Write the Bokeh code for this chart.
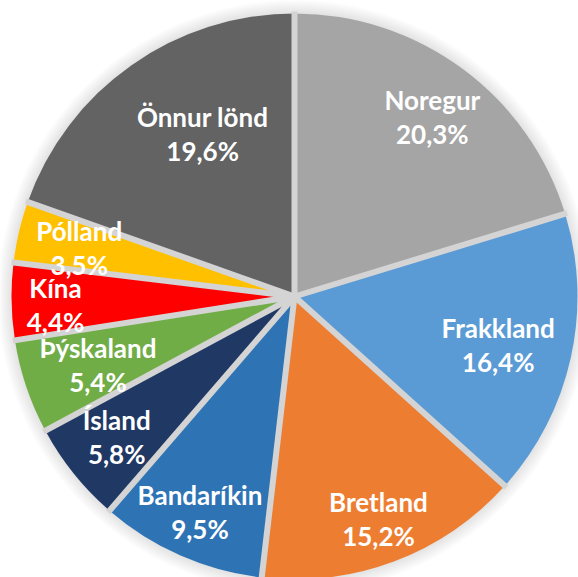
import math
from bokeh.plotting import figure
from bokeh.models import Range1d, ColumnDataSource
from bokeh.core.properties import value
from bokeh.embed import file_html
from bokeh.resources import INLINE

# ---- data (clockwise from 12 o'clock) ----
countries = ["Noregur", "Frakkland", "Bretland", "Bandaríkin", "Ísland",
             "Þýskaland", "Kína", "Pólland", "Önnur lönd"]
shares = [20.3, 16.4, 15.2, 9.5, 5.8, 5.4, 4.4, 3.5, 19.6]
colors = ["#a5a5a5", "#5b9bd5", "#ed7d31", "#2e74b5", "#203864",
          "#70ad47", "#ff0000", "#ffc000", "#636363"]

# ---- layout ----
W, H = 578, 577
CX, CY = 294, H - 296
R = 283
# data-label placement tweaks (fraction of radius, angular nudge in degrees clockwise)
label_f = [0.80, 0.74, 0.84, 0.83, 0.80, 0.735, 0.845, 0.78, 0.66]
label_da = [1.0, 1.0, 0.0, 0.0, 0.5, -0.5, -1.0, -0.5, 5.8]

p = figure(width=W, height=H, output_backend="svg", toolbar_location=None,
           x_range=Range1d(0, W), y_range=Range1d(0, H),
           min_border=0, outline_line_color=None, background_fill_color="white",
           border_fill_color="white")
p.axis.visible = False
p.grid.visible = False

# soft shadow
for k in range(1, 15):
    p.circle(x=[CX], y=[CY], radius=R + k, fill_color="black", fill_alpha=0.008,
             line_color=None)

total = sum(shares)
starts, ends, mids = [], [], []
cum = 0.0
for s in shares:
    c0 = cum / total
    cum += s
    c1 = cum / total
    starts.append(math.pi / 2 - 2 * math.pi * c1)
    ends.append(math.pi / 2 - 2 * math.pi * c0)
    mids.append(math.pi / 2 - 2 * math.pi * (c0 + c1) / 2)

src = ColumnDataSource(dict(start=starts, end=ends, color=colors))
p.wedge(x=CX, y=CY, radius=R, start_angle="start", end_angle="end",
        fill_color="color", line_color=None, source=src)

# separators
bx = [CX + (R + 2) * math.cos(a) for a in ends]
by = [CY + (R + 2) * math.sin(a) for a in ends]
p.segment(x0=[CX] * len(bx), y0=[CY] * len(by), x1=bx, y1=by,
          line_color="#d4d4d4", line_width=6)

# labels
la = [a - math.radians(d) for a, d in zip(mids, label_da)]
lx = [CX + f * R * math.cos(a) for f, a in zip(label_f, la)]
ly = [CY + f * R * math.sin(a) for f, a in zip(label_f, la)]
pct = [f"{v:.1f}".replace(".", ",") + "%" for v in shares]
lsrc = ColumnDataSource(dict(x=lx, y=ly, name=countries, pct=pct))
common = dict(text_color="white", text_font=value("Lato"), text_font_style="bold",
              text_font_size="26px", text_align="center", text_baseline="middle")
p.text(x="x", y="y", text="name", y_offset=-17, source=lsrc, **common)
p.text(x="x", y="y", text="pct", y_offset=17, source=lsrc, **common)

open("out.html", "w").write(file_html(p, INLINE))
